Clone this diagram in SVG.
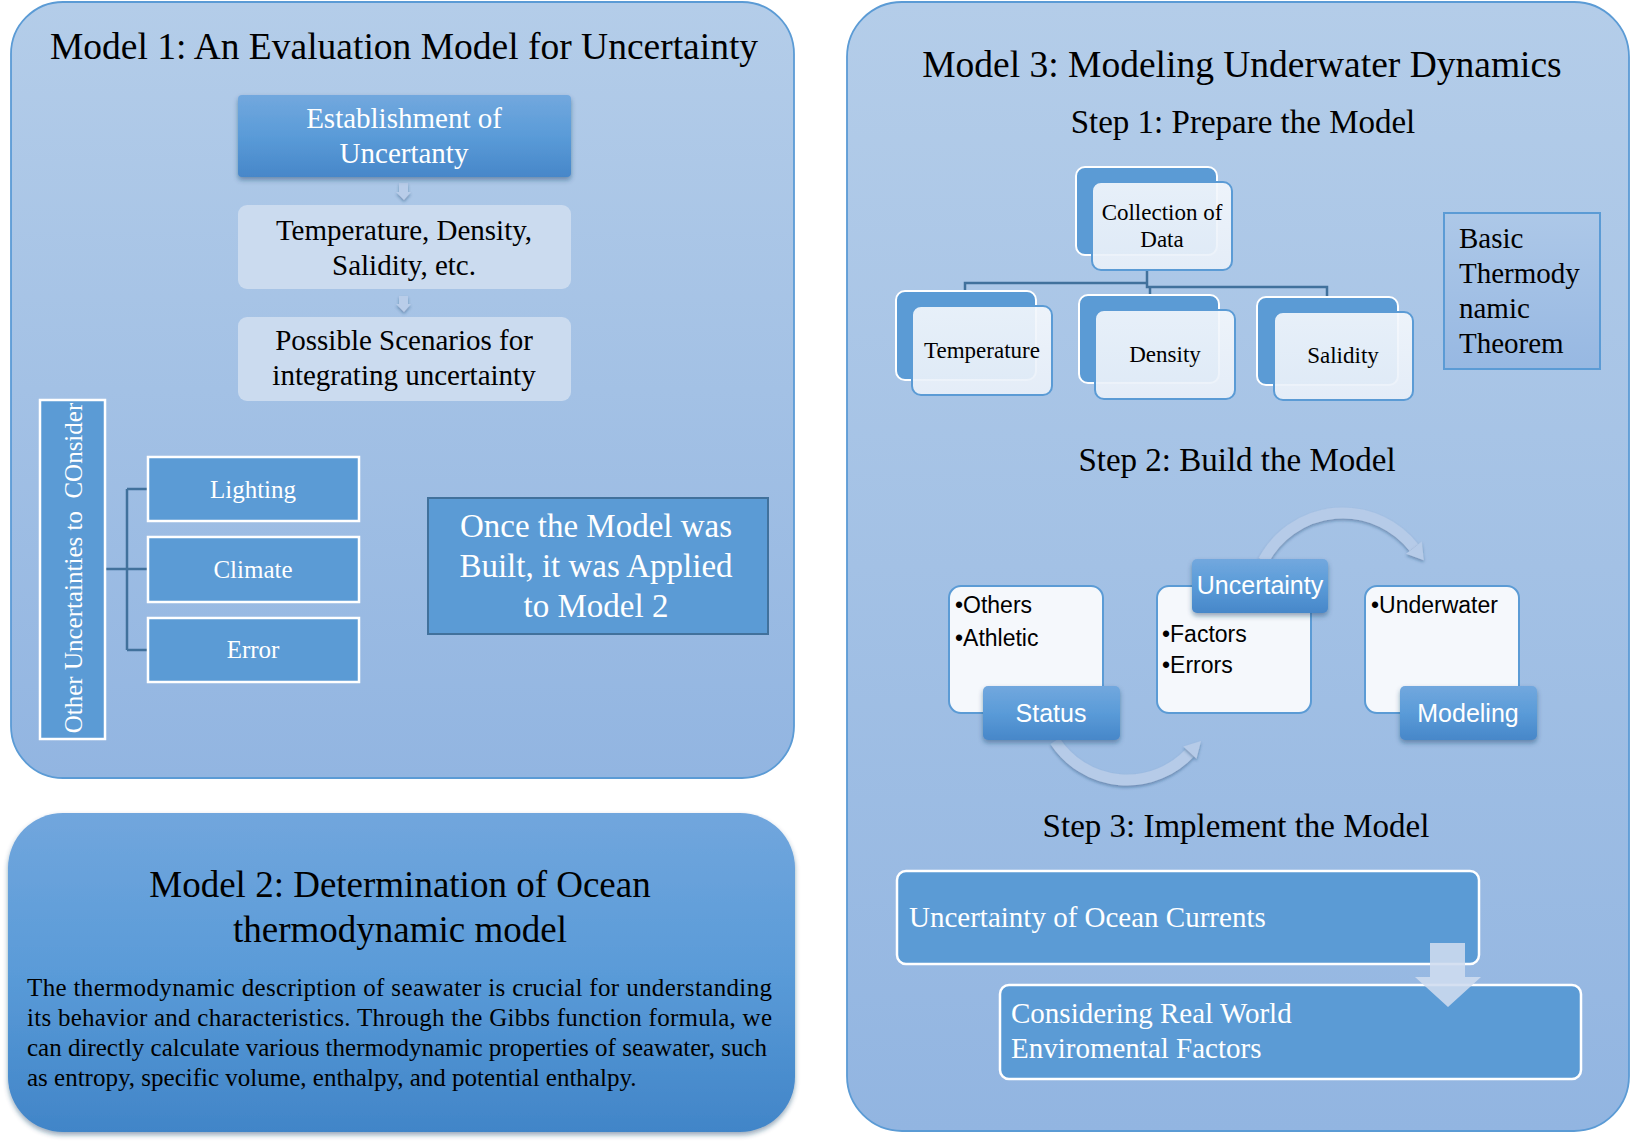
<svg xmlns="http://www.w3.org/2000/svg" width="1632" height="1143" viewBox="0 0 1632 1143">
<defs>
<linearGradient id="gPanel" x1="0" y1="0" x2="0" y2="1">
<stop offset="0" stop-color="#b4cde9"/>
<stop offset="1" stop-color="#92b5e1"/>
</linearGradient>
<linearGradient id="gM2" x1="0" y1="0" x2="0" y2="1">
<stop offset="0" stop-color="#71a6dd"/>
<stop offset="0.5" stop-color="#5a9bd8"/>
<stop offset="1" stop-color="#4185c8"/>
</linearGradient>
<linearGradient id="gBlue" x1="0" y1="0" x2="0" y2="1">
<stop offset="0" stop-color="#72a8de"/>
<stop offset="0.5" stop-color="#5a9bd8"/>
<stop offset="1" stop-color="#4787c9"/>
</linearGradient>
<linearGradient id="gFront" x1="0" y1="0" x2="0" y2="1">
<stop offset="0" stop-color="#f3f7fc"/>
<stop offset="1" stop-color="#e9f0f9"/>
</linearGradient>
<linearGradient id="gBasic" x1="0" y1="0" x2="0" y2="1">
<stop offset="0" stop-color="#adc8e8"/>
<stop offset="1" stop-color="#97b8e2"/>
</linearGradient>
<filter id="sh" x="-20%" y="-20%" width="140%" height="150%">
<feDropShadow dx="0" dy="3" stdDeviation="2.5" flood-color="#1f3f66" flood-opacity="0.45"/>
</filter>
<filter id="shs" x="-30%" y="-30%" width="160%" height="170%">
<feDropShadow dx="0" dy="2" stdDeviation="1.5" flood-color="#1f3f66" flood-opacity="0.4"/>
</filter>
</defs>
<style>
.serif{font-family:"Liberation Serif","Times New Roman",serif}
.sans{font-family:"Liberation Sans",Arial,sans-serif}
.panel{fill:url(#gPanel);stroke:#5b9bd5;stroke-width:1.8}
.blue{fill:#5b9bd5;stroke:#ffffff;stroke-width:2.5}
.grad{fill:url(#gBlue);filter:url(#sh)}
.light{fill:#cbdbef}
.back{fill:#5b9bd5;stroke:#ffffff;stroke-width:2}
.front{fill:url(#gFront);fill-opacity:0.92;stroke:#5b9bd5;stroke-width:2}
.white{fill:#f5f8fc;stroke:#5b9bd5;stroke-width:2}
.line{fill:none;stroke:#41719c;stroke-width:2.5}
.arc{fill:none;stroke:#b6cbe8;stroke-width:11;filter:url(#shs)}
.arh{fill:#b6cbe8;filter:url(#shs)}
.tw{fill:#ffffff}
.tb{fill:#000000}
</style>

<!-- Panels -->
<g id="model1-panel">
<rect x="11" y="2" width="783" height="776" rx="52" class="panel"/>
<text x="404" y="59" class="serif tb" font-size="37.5" text-anchor="middle">Model 1: An Evaluation Model for Uncertainty</text>
</g>
<g id="model3-panel">
<rect x="847" y="2" width="782" height="1129" rx="55" class="panel"/>
<text x="1242" y="77" class="serif tb" font-size="37.5" text-anchor="middle">Model 3: Modeling Underwater Dynamics</text>
<text x="1243" y="133" class="serif tb" font-size="33" text-anchor="middle">Step 1: Prepare the Model</text>
<text x="1237" y="471" class="serif tb" font-size="33" text-anchor="middle">Step 2: Build the Model</text>
<text x="1236" y="837" class="serif tb" font-size="33" text-anchor="middle">Step 3: Implement the Model</text>
</g>
<g id="model2-panel">
<rect x="8" y="813" width="787" height="319" rx="55" fill="url(#gM2)" filter="url(#sh)"/>
<text x="400" y="897" class="serif tb" font-size="37" text-anchor="middle">Model 2: Determination of Ocean</text>
<text x="400" y="942" class="serif tb" font-size="37" text-anchor="middle">thermodynamic model</text>
<text x="27" y="996" class="serif tb" font-size="25" textLength="745" lengthAdjust="spacing">The thermodynamic description of seawater is crucial for understanding</text>
<text x="27" y="1026" class="serif tb" font-size="25" textLength="745" lengthAdjust="spacing">its behavior and characteristics. Through the Gibbs function formula, we</text>
<text x="27" y="1056" class="serif tb" font-size="25" textLength="740" lengthAdjust="spacing">can directly calculate various thermodynamic properties of seawater, such</text>
<text x="27" y="1086" class="serif tb" font-size="25">as entropy, specific volume, enthalpy, and potential enthalpy.</text>
</g>

<!-- Connectors -->
<g id="connectors">
<path d="M399,183 H408 V192 H411 L404,200 L396,192 H399 Z" fill="#b9cde9" filter="url(#shs)"/>
<path d="M399,296 H408 V304 H411 L404,312 L396,304 H399 Z" fill="#b9cde9" filter="url(#shs)"/>
<path d="M105,569 H127 M127,489 V650 M127,489 H147 M127,569 H147 M127,650 H147" class="line"/>
<path d="M1147,270 V283 M965,292 V283 H1147 M1147,283 V287 H1327 V296 M1150,287 V295" class="line"/>
<path d="M1263.5,560.7 A90,90 0 0 1 1413.9,547.6" class="arc"/>
<polygon points="1421.8,541.4 1406,553.8 1423.8,560.2" class="arh"/>
<path d="M1055,741 A86,86 0 0 0 1189.9,752.7" class="arc"/>
<polygon points="1196.5,758.8 1183.3,746.6 1201,741" class="arh"/>
</g>

<!-- Model 1 nodes -->
<g id="n-establishment">
<rect x="238" y="95" width="333" height="82" rx="4" class="grad"/>
<text x="404" y="128" class="serif tw" font-size="29" text-anchor="middle">Establishment of</text>
<text x="404" y="163" class="serif tw" font-size="29" text-anchor="middle">Uncertanty</text>
</g>
<g id="n-temperature-density">
<rect x="238" y="205" width="333" height="84" rx="9" class="light"/>
<text x="404" y="240" class="serif tb" font-size="29" text-anchor="middle">Temperature, Density,</text>
<text x="404" y="275" class="serif tb" font-size="29" text-anchor="middle">Salidity, etc.</text>
</g>
<g id="n-scenarios">
<rect x="238" y="317" width="333" height="84" rx="9" class="light"/>
<text x="404" y="350" class="serif tb" font-size="29" text-anchor="middle">Possible Scenarios for</text>
<text x="404" y="385" class="serif tb" font-size="29" text-anchor="middle">integrating uncertainty</text>
</g>
<g id="n-other">
<rect x="40" y="400" width="65" height="339" class="blue"/>
<text transform="translate(82,568) rotate(-90)" class="serif tw" font-size="25" text-anchor="middle" style="white-space:pre">Other Uncertainties to  COnsider</text>
</g>
<g id="n-lighting">
<rect x="148" y="457" width="211" height="64" class="blue"/>
<text x="253" y="498" class="serif tw" font-size="25" text-anchor="middle">Lighting</text>
</g>
<g id="n-climate">
<rect x="148" y="537" width="211" height="65" class="blue"/>
<text x="253" y="578" class="serif tw" font-size="25" text-anchor="middle">Climate</text>
</g>
<g id="n-error">
<rect x="148" y="618" width="211" height="64" class="blue"/>
<text x="253" y="658" class="serif tw" font-size="25" text-anchor="middle">Error</text>
</g>
<g id="n-once">
<rect x="428" y="498" width="340" height="136" fill="#5b9bd5" stroke="#41719c" stroke-width="2"/>
<text x="596" y="537" class="serif tw" font-size="33" text-anchor="middle">Once the Model was</text>
<text x="596" y="577" class="serif tw" font-size="33" text-anchor="middle">Built, it was Applied</text>
<text x="596" y="617" class="serif tw" font-size="33" text-anchor="middle">to Model 2</text>
</g>

<!-- Model 3 Step 1 -->
<g id="n-collection">
<rect x="1076" y="167" width="141" height="88" rx="9" class="back"/>
<rect x="1092" y="182" width="140" height="88" rx="9" class="front"/>
<text x="1162" y="220" class="serif tb" font-size="23" text-anchor="middle">Collection of</text>
<text x="1162" y="247" class="serif tb" font-size="23" text-anchor="middle">Data</text>
</g>
<g id="n-temperature">
<rect x="896" y="291" width="140" height="89" rx="9" class="back"/>
<rect x="912" y="306" width="140" height="89" rx="9" class="front"/>
<text x="982" y="358" class="serif tb" font-size="23" text-anchor="middle">Temperature</text>
</g>
<g id="n-density">
<rect x="1079" y="295" width="140" height="88" rx="9" class="back"/>
<rect x="1095" y="310" width="140" height="89" rx="9" class="front"/>
<text x="1165" y="362" class="serif tb" font-size="23" text-anchor="middle">Density</text>
</g>
<g id="n-salidity">
<rect x="1257" y="297" width="141" height="88" rx="9" class="back"/>
<rect x="1274" y="312" width="139" height="88" rx="9" class="front"/>
<text x="1343" y="363" class="serif tb" font-size="23" text-anchor="middle">Salidity</text>
</g>
<g id="n-basic">
<rect x="1444" y="213" width="156" height="156" fill="url(#gBasic)" stroke="#5b9bd5" stroke-width="2"/>
<text x="1459" y="248" class="serif tb" font-size="29">Basic</text>
<text x="1459" y="283" class="serif tb" font-size="29">Thermody</text>
<text x="1459" y="318" class="serif tb" font-size="29">namic</text>
<text x="1459" y="353" class="serif tb" font-size="29">Theorem</text>
</g>

<!-- Model 3 Step 2 -->
<g id="n-status">
<rect x="949" y="586" width="154" height="127" rx="12" class="white"/>
<text x="955" y="613" class="sans tb" font-size="23">•Others</text>
<text x="955" y="646" class="sans tb" font-size="23">•Athletic</text>
<rect x="983" y="686" width="137" height="54" rx="5" class="grad"/>
<text x="1051" y="722" class="sans tw" font-size="25" text-anchor="middle">Status</text>
</g>
<g id="n-uncertainty">
<rect x="1157" y="586" width="154" height="127" rx="12" class="white"/>
<text x="1162" y="642" class="sans tb" font-size="23">•Factors</text>
<text x="1162" y="673" class="sans tb" font-size="23">•Errors</text>
<rect x="1192" y="559" width="136" height="54" rx="5" class="grad"/>
<text x="1260" y="594" class="sans tw" font-size="25" text-anchor="middle">Uncertainty</text>
</g>
<g id="n-modeling">
<rect x="1365" y="586" width="154" height="127" rx="12" class="white"/>
<text x="1371" y="613" class="sans tb" font-size="23">•Underwater</text>
<rect x="1400" y="686" width="137" height="54" rx="5" class="grad"/>
<text x="1468" y="722" class="sans tw" font-size="25" text-anchor="middle">Modeling</text>
</g>

<!-- Model 3 Step 3 -->
<g id="n-ocean-currents">
<rect x="897" y="871" width="582" height="93" rx="9" class="blue"/>
<text x="909" y="927" class="serif tw" font-size="29">Uncertainty of Ocean Currents</text>
</g>
<g id="n-real-world">
<rect x="1000" y="985" width="581" height="94" rx="9" class="blue"/>
<text x="1011" y="1023" class="serif tw" font-size="29">Considering Real World</text>
<text x="1011" y="1058" class="serif tw" font-size="29">Enviromental Factors</text>
</g>
<g id="step3-arrow">
<path d="M1430,943 H1465 V977 H1481 L1448,1007 L1415,977 H1430 Z" fill="#cfdcef" fill-opacity="0.88"/>
</g>
</svg>
